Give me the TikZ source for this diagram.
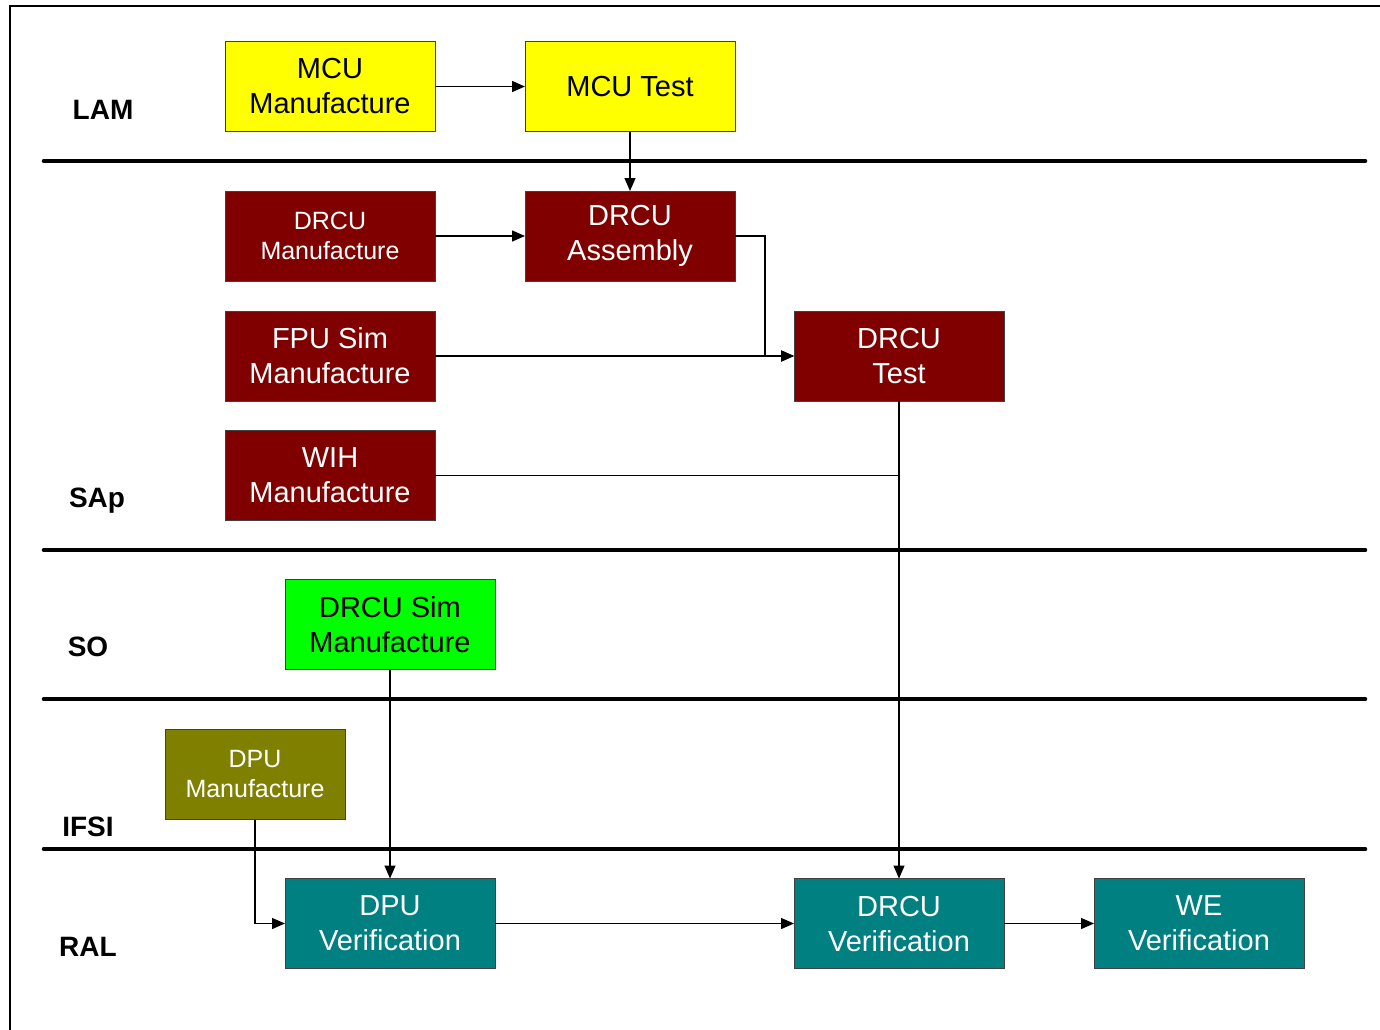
\documentclass[tikz,border=0pt]{standalone}
\usepackage{fontspec}
\setmainfont{Liberation Sans}
\usetikzlibrary{arrows.meta}
\definecolor{lamYellow}{RGB}{255, 255, 0}
\definecolor{sapRed}{RGB}{128, 0, 0}
\definecolor{soGreen}{RGB}{0, 255, 0}
\definecolor{ifsiOlive}{RGB}{128, 128, 0}
\definecolor{ralTeal}{RGB}{0, 128, 128}

\tikzset{
  task/.style={draw=black!75, line width=0.5pt, inner sep=0pt, outer sep=0pt,
    minimum width=105pt, minimum height=45pt, align=center,
    font=\fontsize{14.5}{17.5}\selectfont},
  small/.style={font=\fontsize{12.5}{15}\selectfont},
  lane/.style={line width=2.3pt, line cap=round},
  lanename/.style={anchor=base, font=\fontsize{14}{16}\selectfont\bfseries},
  flow/.style={line width=0.7pt},
}

\begin{document}
\begin{tikzpicture}[x=0.5pt, y=-0.5pt, >={Triangle[length=6.5pt, width=5.5pt]}]
  \useasboundingbox (0,0) rectangle (1380,1029);

  % outer frame (only top and left edges fall inside the page)
  \draw[line width=1pt] (10,1040) -- (10,6) -- (1390,6);

  % swimlane separators
  \foreach \y in {161, 550, 699, 849}
    \draw[lane] (44,\y) -- (1365,\y);

  % lane names, placed on their baselines
  \node[lanename] (lam)  at (103,119) {LAM};
  \node[lanename] (sap)  at (97,507)  {SAp};
  \node[lanename] (so)   at (88,656)  {SO};
  \node[lanename] (ifsi) at (88,836)  {IFSI};
  \node[lanename] (ral)  at (88,956)  {RAL};

  % LAM
  \node[task, fill=lamYellow] (mcuMan)  at (330,86.5) {MCU\\Manufacture};
  \node[task, fill=lamYellow] (mcuTest) at (630,86.5) {MCU Test};

  % SAp
  \node[task, small, fill=sapRed, text=white] (drcuMan) at (330,236) {DRCU\\Manufacture};
  \node[task, fill=sapRed, text=white] (drcuAsm)  at (630,236) {DRCU\\Assembly};
  \node[task, fill=sapRed, text=white] (fpuMan)   at (330,356) {FPU Sim\\Manufacture};
  \node[task, fill=sapRed, text=white] (drcuTest) at (899,356) {DRCU\\Test};
  \node[task, fill=sapRed, text=white] (wihMan)   at (330,475.5) {WIH\\Manufacture};

  % SO
  \node[task, fill=soGreen] (simMan) at (390,624.5) {DRCU Sim\\Manufacture};

  % IFSI
  \node[task, small, fill=ifsiOlive, text=white, minimum width=90pt] (dpuMan) at (255,774.5) {DPU\\Manufacture};

  % RAL
  \node[task, fill=ralTeal, text=white] (dpuVer)  at (390,923.5)  {DPU\\Verification};
  \node[task, fill=ralTeal, text=white] (drcuVer) at (899,923.5)  {DRCU\\Verification};
  \node[task, fill=ralTeal, text=white] (weVer)   at (1199,923.5) {WE\\Verification};

  % flows
  \draw[flow, ->] (mcuMan) -- (mcuTest);
  \draw[flow, ->] (mcuTest) -- (drcuAsm);
  \draw[flow, ->] (drcuMan) -- (drcuAsm);
  \draw[flow, ->] (drcuAsm.east) -- ++(30,0) |- (drcuTest.west);
  \draw[flow, ->] (fpuMan) -- (drcuTest);
  \draw[flow, ->] (drcuTest) -- (drcuVer);
  \draw[flow] (wihMan.east) -- (wihMan.east -| drcuTest.south);
  \draw[flow, ->] (simMan) -- (dpuVer);
  \draw[flow, ->] (dpuMan.south) |- (dpuVer.west);
  \draw[flow, ->] (dpuVer) -- (drcuVer);
  \draw[flow, ->] (drcuVer) -- (weVer);
\end{tikzpicture}
\end{document}
